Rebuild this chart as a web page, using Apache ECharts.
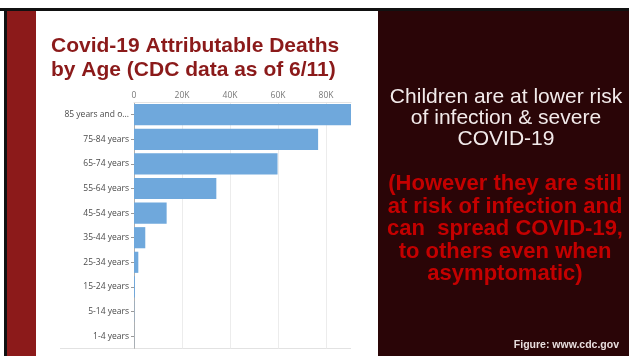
<!DOCTYPE html>
<html>
<head>
<meta charset="utf-8">
<script src="https://cdn.jsdelivr.net/npm/echarts@6/dist/echarts.min.js"></script>
<style>
  html, body { margin: 0; padding: 0; background: #ffffff; }
  #chart { width: 629px; height: 356px; }
</style>
</head>
<body>
<div id="chart"></div>
<script>
// Age groups, oldest first
const ageGroups = [
  '85 years and o...', '75-84 years', '65-74 years', '55-64 years', '45-54 years',
  '35-44 years', '25-34 years', '15-24 years', '5-14 years', '1-4 years'
];
// COVID-19 attributable deaths per age group
const deaths = [90400, 76700, 59800, 34300, 13600, 4700, 1800, 400, 100, 50];
// Value axis ticks
const tickStep = 20000;
const axisMax = 90400;

const titleLines = ['Covid-19 Attributable Deaths', 'by Age (CDC data as of 6/11)'];
const noteLines = ['Children are at lower risk', 'of infection & severe', 'COVID-19'];
const warnLines = ['(However they are still', 'at risk of infection and', 'can  spread COVID-19,', 'to others even when', 'asymptomatic)'];
const sourceText = 'Figure: www.cdc.gov';

const chart = echarts.init(document.getElementById('chart'), null, { renderer: 'canvas' });

const font = 'Liberation Sans, Arial, sans-serif';
const axisFont = '"Open Sans", "Noto Sans", sans-serif';

chart.setOption({
  backgroundColor: '#ffffff',
  animation: false,
  grid: { left: 134, right: 278, top: 102.4, bottom: 7.6, containLabel: false },
  xAxis: {
    type: 'value',
    position: 'top',
    min: 0,
    max: axisMax,
    interval: tickStep,
    axisLine: { show: true, lineStyle: { color: '#e4e4e4', width: 1 } },
    axisTick: { show: false },
    axisLabel: {
      color: '#777777', fontSize: 8.5, fontFamily: axisFont, margin: 2,
      showMaxLabel: false,
      formatter: v => v === 0 ? '0' : (v / 1000) + 'K'
    },
    splitLine: { show: true, lineStyle: { color: ['#ececec', '#ececec', '#ececec', '#ececec', '#ececec', 'rgba(0,0,0,0)'], width: 1 } }
  },
  yAxis: {
    type: 'category',
    inverse: true,
    data: ageGroups,
    axisLine: { show: true, lineStyle: { color: '#b0b0b0', width: 1 } },
    axisTick: { show: true, alignWithLabel: true, length: 3, lineStyle: { color: '#999999' } },
    axisLabel: { color: '#4a4a4a', fontSize: 8.5, fontFamily: axisFont, margin: 5 }
  },
  series: [{
    type: 'bar',
    data: deaths,
    barCategoryGap: '14%',
    itemStyle: { color: '#6fa8dc' },
    z: 3
  }],
  graphic: [
    // slide frame
    { type: 'rect', shape: { x: 0, y: 8, width: 629, height: 3 }, style: { fill: '#111111' }, silent: true },
    { type: 'rect', shape: { x: 4, y: 8, width: 3, height: 348 }, style: { fill: '#111111' }, silent: true },
    { type: 'rect', shape: { x: 7, y: 11, width: 29, height: 345 }, style: { fill: '#8c1a1a' }, silent: true },
    { type: 'rect', shape: { x: 378, y: 11, width: 251, height: 345 }, style: { fill: '#2a0507' }, silent: true },
    // bottom rule under the chart
    { type: 'line', shape: { x1: 60, y1: 348.5, x2: 351, y2: 348.5 }, style: { stroke: '#e2e2e2', lineWidth: 1 }, silent: true },
    // heading
    {
      type: 'text', left: 51, top: 34, silent: true,
      style: { text: titleLines.join('\n'), fill: '#8b1a1a', font: 'bold 21px ' + font, lineHeight: 24 }
    },
    // right-hand notes
    {
      type: 'text', x: 506, y: 87, silent: true,
      style: { text: noteLines.join('\n'), fill: '#f2eaea', font: '21px ' + font, lineHeight: 21, align: 'center', verticalAlign: 'top' }
    },
    {
      type: 'text', x: 505, y: 173, silent: true,
      style: { text: warnLines.join('\n'), fill: '#c40000', font: 'bold 22px ' + font, lineHeight: 22.5, align: 'center', verticalAlign: 'top' }
    },
    {
      type: 'text', x: 619, y: 345, silent: true,
      style: { text: sourceText, fill: '#e8dede', font: 'bold 10.5px ' + font, align: 'right', verticalAlign: 'middle' }
    }
  ]
});
</script>
</body>
</html>
